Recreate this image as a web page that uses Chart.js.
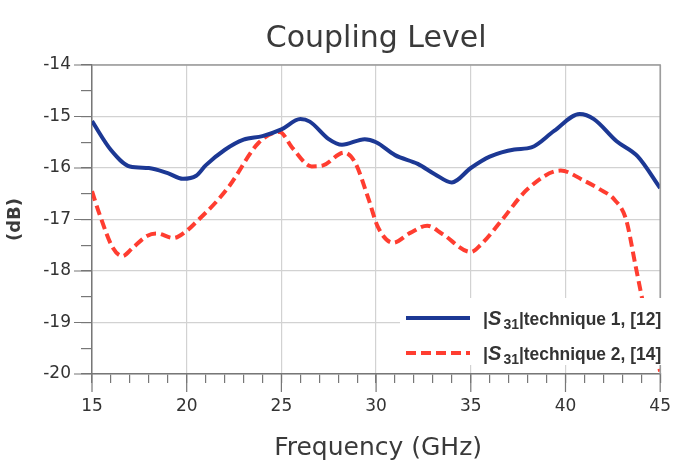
<!DOCTYPE html>
<html>
<head>
<meta charset="utf-8">
<title>Coupling Level</title>
<script src="https://cdn.jsdelivr.net/npm/chart.js@4.4.1/dist/chart.umd.min.js"></script>
<style>
  body { margin: 0; background: #fff; }
  #wrap { width: 684px; height: 461px; }
</style>
</head>
<body>
<div id="wrap"><canvas id="couplingChart" width="684" height="461"></canvas></div>
<script>
// Données (fréquence en GHz, niveau en dB)
const freq1 = [15, 16, 17, 18, 19, 19.8, 20.5, 21, 22, 23, 24, 25, 26, 26.5, 27.5, 28.2, 29.4, 30, 31, 32.2, 33.1, 34, 35, 36, 37.3, 38.2, 39.4, 40.75, 41.5, 42.7, 43.8, 45];
const tech1 = [-15.09, -15.65, -15.97, -16.0, -16.1, -16.21, -16.15, -15.95, -15.65, -15.45, -15.38, -15.25, -15.05, -15.1, -15.44, -15.55, -15.44, -15.5, -15.75, -15.92, -16.12, -16.28, -16.0, -15.78, -15.64, -15.6, -15.28, -14.95, -15.05, -15.48, -15.77, -16.39];

const freq2 = [15, 15.4, 16.1, 16.6, 17.15, 17.9, 18.4, 19.3, 20, 20.5, 21.6, 22.25, 23.8, 24.9, 25.6, 26.6, 27.2, 28.3, 28.9, 29.6, 30.1, 30.9, 31.8, 32.7, 33.5, 35, 35.5, 36.6, 38, 39.75, 41, 41.8, 42.6, 43.2, 43.7, 44.2, 44.6, 45];
const tech2 = [-16.45, -16.9, -17.55, -17.71, -17.55, -17.32, -17.27, -17.36, -17.22, -17.05, -16.64, -16.35, -15.51, -15.3, -15.62, -15.97, -15.95, -15.7, -15.9, -16.6, -17.15, -17.45, -17.26, -17.12, -17.28, -17.63, -17.5, -17.03, -16.41, -16.05, -16.25, -16.41, -16.62, -17.0, -17.9, -18.8, -19.4, -19.95];

const xTicksMajor = [15, 20, 25, 30, 35, 40, 45];
const yTicksMajor = [-20, -19, -18, -17, -16, -15, -14];

const legendLabels = ["technique 1, [12]", "technique 2, [14]"];

const BLUE = "#1c3894";
const RED = "#ff3d30";
const FONT = "'DejaVu Sans', sans-serif";
const LEGEND_FONT = "'Liberation Sans', Arial, sans-serif";

function toPoints(xs, ys) {
    return xs.map((x, i) => ({ x: x, y: ys[i] }));
}

// Titres, cadre, grands tirets et légende (dessinés à la main)
const extrasPlugin = {
    id: "extras",
    afterDraw(chart) {
        const ctx = chart.ctx;
        const a = chart.chartArea;
        const xs = chart.scales.x;
        const ys = chart.scales.y;
        ctx.save();

        // cadre haut et droite
        ctx.strokeStyle = "#9a9a9a";
        ctx.lineWidth = 1.5;
        ctx.beginPath();
        ctx.moveTo(a.left, a.top);
        ctx.lineTo(a.right, a.top);
        ctx.lineTo(a.right, a.bottom);
        ctx.stroke();

        // tirets majeurs plus longs
        ctx.strokeStyle = "#777";
        ctx.lineWidth = 1.2;
        ctx.beginPath();
        xTicksMajor.forEach(v => {
            const px = xs.getPixelForValue(v);
            ctx.moveTo(px, a.bottom);
            ctx.lineTo(px, a.bottom + 18);
        });
        yTicksMajor.forEach(v => {
            const py = ys.getPixelForValue(v);
            ctx.moveTo(a.left - 18, py);
            ctx.lineTo(a.left, py);
        });
        ctx.stroke();

        // titre
        const cx = (a.left + a.right) / 2;
        ctx.fillStyle = "#3a3a3a";
        ctx.textAlign = "center";
        ctx.textBaseline = "alphabetic";
        ctx.font = "30px " + FONT;
        ctx.fillText("Coupling Level", cx, 47);

        // titre axe x
        ctx.font = "25px " + FONT;
        ctx.fillText("Frequency (GHz)", cx + 2, 455);

        // titre axe y
        ctx.save();
        ctx.translate(15, (a.top + a.bottom) / 2);
        ctx.rotate(-Math.PI / 2);
        ctx.textBaseline = "middle";
        ctx.font = "bold 18px " + FONT;
        ctx.fillText("(dB)", 0, 0);
        ctx.restore();

        // légende dans le graphe
        ctx.fillStyle = "#fff";
        ctx.fillRect(400, 298, 270, 67);
        const rows = [
            { y: 318, color: BLUE, dash: [], label: legendLabels[0] },
            { y: 353, color: RED, dash: [10, 5], label: legendLabels[1] }
        ];
        rows.forEach(r => {
            ctx.strokeStyle = r.color;
            ctx.lineWidth = 4;
            ctx.setLineDash(r.dash);
            ctx.beginPath();
            ctx.moveTo(406, r.y);
            ctx.lineTo(470, r.y);
            ctx.stroke();
            ctx.setLineDash([]);

            let x = 483;
            const base = r.y + 7;
            ctx.fillStyle = "#333";
            ctx.textAlign = "left";
            ctx.textBaseline = "alphabetic";
            ctx.font = "bold 18px " + LEGEND_FONT;
            ctx.fillText("|", x, base);
            x += ctx.measureText("|").width;
            ctx.font = "italic bold 20px " + LEGEND_FONT;
            ctx.fillText("S", x, base);
            x += ctx.measureText("S").width + 2;
            ctx.font = "bold 14px " + LEGEND_FONT;
            ctx.fillText("31", x, base + 4);
            x += ctx.measureText("31").width;
            ctx.font = "bold 18px " + LEGEND_FONT;
            const rest = "|" + r.label;
            // ajuster à la place disponible jusqu'au bord du graphe
            const avail = a.right + 1 - x;
            const w = ctx.measureText(rest).width;
            if (w > avail) {
                ctx.save();
                ctx.translate(x, base);
                ctx.scale(avail / w, 1);
                ctx.fillText(rest, 0, 0);
                ctx.restore();
            } else {
                ctx.fillText(rest, x, base);
            }
        });

        ctx.restore();
    }
};

const chart = new Chart(document.getElementById("couplingChart"), {
    type: "line",
    data: {
        datasets: [{
            label: "|S31| technique 1, [12]",
            data: toPoints(freq1, tech1),
            borderColor: BLUE,
            borderWidth: 4,
            pointRadius: 0,
            cubicInterpolationMode: "monotone",
            fill: false
        }, {
            label: "|S31| technique 2, [14]",
            data: toPoints(freq2, tech2),
            borderColor: RED,
            borderWidth: 4,
            borderDash: [10, 5],
            pointRadius: 0,
            cubicInterpolationMode: "monotone",
            fill: false
        }]
    },
    options: {
        responsive: false,
        animation: false,
        layout: { padding: { top: 65, right: 21, left: 0, bottom: 0 } },
        plugins: {
            legend: { display: false },
            title: { display: false },
            tooltip: { enabled: false }
        },
        scales: {
            x: {
                type: "linear",
                min: 15,
                max: 45,
                afterFit: s => { s.height = 87; },
                border: { color: "#777", width: 1.5 },
                grid: {
                    color: c => (c.tick && c.tick.value % 5 === 0) ? "#d2d2d2" : "rgba(0,0,0,0)",
                    lineWidth: 1.2,
                    tickColor: "#777",
                    tickLength: 9
                },
                ticks: {
                    stepSize: 1,
                    autoSkip: false,
                    maxRotation: 0,
                    padding: 13,
                    color: "#333",
                    font: { family: FONT, size: 17 },
                    callback: v => (v % 5 === 0 ? v : "")
                }
            },
            y: {
                type: "linear",
                min: -20,
                max: -14,
                afterFit: s => { s.width = 92; },
                border: { color: "#777", width: 1.5 },
                grid: {
                    color: c => (c.tick && Number.isInteger(c.tick.value)) ? "#d2d2d2" : "rgba(0,0,0,0)",
                    lineWidth: 1.2,
                    tickColor: "#777",
                    tickLength: 11
                },
                ticks: {
                    stepSize: 0.5,
                    autoSkip: false,
                    padding: 10,
                    color: "#333",
                    font: { family: FONT, size: 17 },
                    callback: v => (Number.isInteger(v) ? v : "")
                }
            }
        }
    },
    plugins: [extrasPlugin]
});
</script>
</body>
</html>
